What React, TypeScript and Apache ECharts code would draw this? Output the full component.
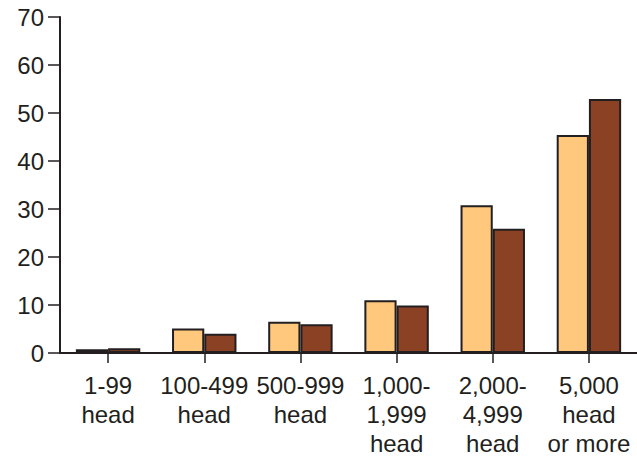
import React, { useEffect, useRef } from "react";
import * as echarts from "echarts";

const categories = [
  "1-99\nhead",
  "100-499\nhead",
  "500-999\nhead",
  "1,000-\n1,999\nhead",
  "2,000-\n4,999\nhead",
  "5,000\nhead\nor more",
];
const seriesLight = [0.8, 5.1, 6.5, 11, 30.8, 45.4];
const seriesDark = [1.0, 4.0, 6.0, 9.9, 25.9, 52.9];
const yMin = 0;
const yMax = 70;
const yInterval = 10;

const INK = "#231F20";
const FONT = "'Liberation Sans', Arial, Helvetica, sans-serif";

export default function App() {
  const ref = useRef<HTMLDivElement>(null);
  useEffect(() => {
    if (!ref.current) return;
    const chart = echarts.init(ref.current, undefined, { renderer: "svg" });
    chart.setOption({
      animation: false,
      backgroundColor: "#ffffff",
      grid: { left: 60, right: 0, top: 17, bottom: 101, containLabel: false },
      xAxis: {
        type: "category",
        data: categories,
        axisLine: { show: true, lineStyle: { color: INK, width: 2 } },
        axisTick: { show: true, alignWithLabel: true, length: 10, lineStyle: { color: INK, width: 1.5 } },
        axisLabel: {
          color: INK,
          fontSize: 24,
          fontFamily: FONT,
          lineHeight: 29,
          margin: 18,
          interval: 0,
          align: "center",
        },
      },
      yAxis: {
        type: "value",
        min: yMin,
        max: yMax,
        interval: yInterval,
        axisLine: { show: true, lineStyle: { color: INK, width: 2 } },
        axisTick: { show: true, length: 12, lineStyle: { color: INK, width: 1.5 } },
        splitLine: { show: false },
        axisLabel: { color: INK, fontSize: 24, fontFamily: FONT, margin: 16 },
      },
      series: [
        {
          type: "bar",
          data: seriesLight,
          barGap: "0%",
          barCategoryGap: "33%",
          itemStyle: { color: "#FFC87C", borderColor: INK, borderWidth: 2 },
        },
        {
          type: "bar",
          data: seriesDark,
          barGap: "0%",
          barCategoryGap: "33%",
          itemStyle: { color: "#8B4224", borderColor: INK, borderWidth: 2 },
        },
      ],
    });
    return () => chart.dispose();
  }, []);
  return (
    <div
      ref={ref}
      style={{ position: "fixed", left: 0, top: 0, width: 637, height: 458 }}
    />
  );
}
